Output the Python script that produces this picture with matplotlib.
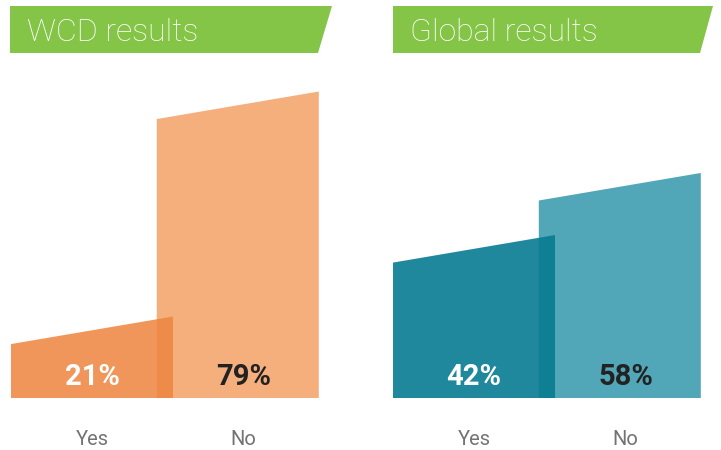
import matplotlib
matplotlib.use("Agg")
import matplotlib.pyplot as plt
from matplotlib import font_manager
from matplotlib.patches import Polygon

# data
categories = ["Yes", "No"]
wcd_values = [21, 79]
global_values = [42, 58]
panel_titles = ["WCD results", "Global results"]

# pick a condensed font if there is one
names = {f.name for f in font_manager.fontManager.ttflist}
font = "DejaVu Sans"
for cand in ["Liberation Sans Narrow", "Roboto", "Liberation Sans"]:
    if cand in names:
        font = cand
        break
plt.rcParams['font.family'] = [font, 'DejaVu Sans']

W, H = 721, 450
fig = plt.figure(figsize=(W / 100, H / 100), dpi=100)

px_per_unit = 3.88
ymax = 87
slant = 7.1
bar_w = 1.0
spacing = 0.9

panels = [
    dict(left=11, values=wcd_values, title=panel_titles[0],
         colors=("#EE8540", "#F4AF7C"), alpha=0.86,
         banner=(10, 332, 318)),
    dict(left=393, values=global_values, title=panel_titles[1],
         colors=("#087B91", "#51A6B7"), alpha=0.9,
         banner=(393, 713, 700)),
]

baseline_px = 398
for p in panels:
    width_px = (bar_w + spacing) * 162 / bar_w
    ax = fig.add_axes([p['left'] / W, (H - baseline_px) / H,
                       width_px / W, ymax * px_per_unit / H])
    ax.set_xlim(-bar_w / 2, spacing + bar_w / 2)
    ax.set_ylim(0, ymax)
    ax.axis('off')

    # No bar first (behind), then Yes on top with transparency
    order = [1, 0]
    for i in order:
        v = p['values'][i]
        xc = i * spacing
        x0, x1 = xc - bar_w / 2, xc + bar_w / 2
        pts = [(x0, 0), (x1, 0), (x1, v), (x0, v - slant)]
        if i == 0:
            poly = Polygon(pts, closed=True, facecolor=p['colors'][0],
                           alpha=p['alpha'], edgecolor='none', zorder=3)
        else:
            poly = Polygon(pts, closed=True, facecolor=p['colors'][1],
                           edgecolor='none', zorder=2)
        ax.add_patch(poly)

    for i, (cat, v) in enumerate(zip(categories, p['values'])):
        xc = i * spacing + (0.035 if i == 1 else 0)
        ax.text(xc, 3.4, f"{v}%", ha='center', va='baseline',
                fontsize=21, fontweight='bold',
                color='white' if i == 0 else '#222222', zorder=5)
        ax.text(xc, -12.1, cat, ha='center', va='baseline',
                fontsize=14.5, color='#737373', clip_on=False)

    # green header banner
    bl, btr, bbr = p['banner']
    top, bot = 6, 53
    banner = Polygon([(bl / W, 1 - top / H), (btr / W, 1 - top / H),
                      (bbr / W, 1 - bot / H), (bl / W, 1 - bot / H)],
                     closed=True, transform=fig.transFigure,
                     facecolor="#84C447", edgecolor='none')
    fig.patches.append(banner)
    fig.text((bl + 17) / W, 1 - 41 / H, p['title'], ha='left',
             va='baseline', fontsize=23, fontweight='light', color='white')

fig.savefig("out.png", dpi=100, facecolor='white')
